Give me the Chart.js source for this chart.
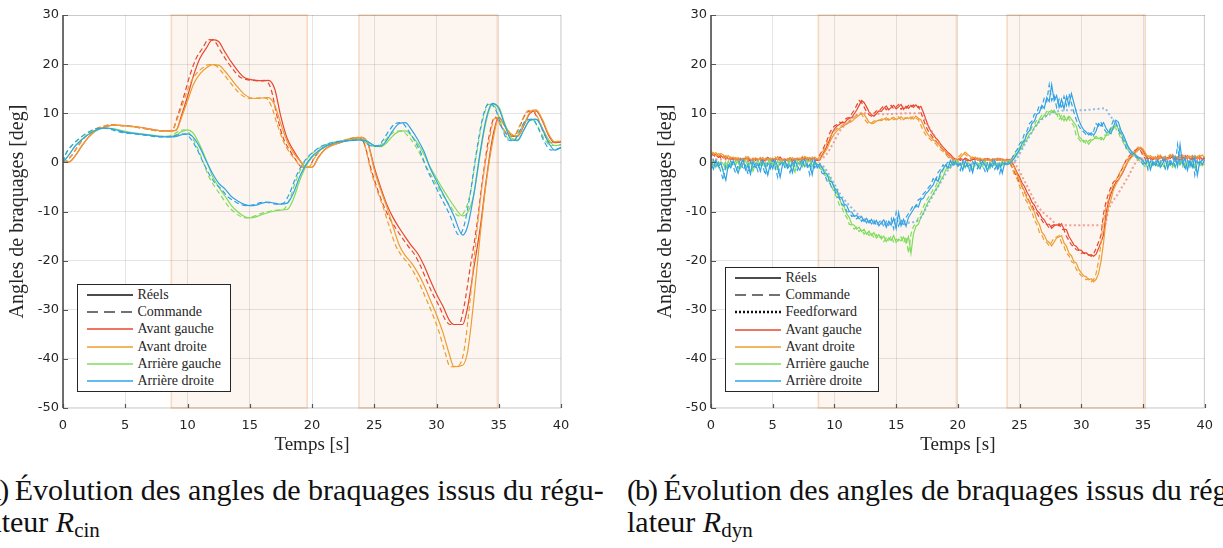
<!DOCTYPE html>
<html lang="fr">
<head>
<meta charset="utf-8">
<title>Angles de braquages</title>
<script src="https://cdn.jsdelivr.net/npm/chart.js@4.4.1/dist/chart.umd.min.js"></script>
<style>
  html, body { margin: 0; padding: 0; background: #fff; overflow: hidden; }
  body { width: 1223px; height: 548px; position: relative; }
  .panel { position: absolute; top: 0; height: 460px; }
  #panelCin { left: 0; width: 612px; }
  #panelDyn { left: 648px; width: 575px; }
  .legend {
    position: absolute; box-sizing: border-box; width: 154px; background: #fff;
    border: 1.2px solid #262626; padding: 1px 0;
    font: 14px "Liberation Serif", serif; color: #262626;
  }
  .legend .row { height: 17.3px; display: flex; align-items: center; white-space: nowrap; }
  .legend svg { margin: 0 5px 0 8.5px; flex: none; }
  .caption {
    position: absolute; top: 474px; white-space: nowrap;
    font: 30px/32px "Liberation Serif", serif; color: #111;
  }
  .caption .tag { letter-spacing: -2px; }
  .caption sub { font-size: 21px; vertical-align: baseline; position: relative; top: 5px; }
</style>
</head>
<body>

<div class="panel" id="panelCin">
  <canvas id="chartCin" width="612" height="460"></canvas>
  <div class="legend" id="legendCin" style="left:77px; top:284px;"></div>
</div>
<div class="panel" id="panelDyn">
  <canvas id="chartDyn" width="575" height="460"></canvas>
  <div class="legend" id="legendDyn" style="left:77px; top:267px;"></div>
</div>

<div class="caption" style="left:-20px;"><span class="tag">(a)</span> Évolution des angles de braquages issus du régu-<br>lateur <i>R</i><sub>cin</sub></div>
<div class="caption" style="left:627px;"><span class="tag">(b)</span> Évolution des angles de braquages issus du régu-<br>lateur <i>R</i><sub>dyn</sub></div>

<script>
// ---------------------------------------------------------------
// Steering angles of the four wheels, kinematic vs dynamic control
// ---------------------------------------------------------------

const wheelNames = ['Avant gauche', 'Avant droite', 'Arrière gauche', 'Arrière droite'];
const wheelColors = ['#e8472f', '#ee9d32', '#7fdc5c', '#2fa3e6'];

// Turning manoeuvres (shaded spans), in seconds
const zonesCin = [[8.7, 19.62], [23.77, 34.89]];
const zonesDyn = [[8.7, 19.89], [23.99, 35.18]];

// ---- (a) kinematic controller, R_cin ----
const tCin = [0, 0.5, 1, 1.5, 2, 2.5, 3, 3.5, 4, 5, 6, 7, 8, 8.7, 9.1, 9.5,
  10, 10.5, 11, 11.5, 12, 12.5, 13, 13.5, 14, 14.5, 15, 15.5, 16, 16.5, 17, 17.5, 18, 18.5, 19, 19.5, 20,
  20.5, 21, 21.5, 22, 23, 24,
  24.5, 25, 25.5, 26, 26.5, 27, 27.5, 28, 28.5, 29, 29.5, 30, 30.5, 31, 31.4, 32.1,
  32.5, 33, 33.5, 34, 34.5, 35, 35.5, 36, 36.5, 37, 37.5, 38, 38.5, 39, 39.5, 40];
// set-point timestamps (the command leads the measured angle)
const tCmdCin = [0, 0.2, 0.7, 1.2, 1.7, 2.2, 2.7, 3.2, 3.7, 4.7, 5.7, 6.7, 7.7, 8.4, 8.8, 9.2,
  9.7, 10.2, 10.7, 11.2, 11.7, 12.2, 12.7, 13.2, 13.7, 14.2, 14.7, 15.2, 15.7, 16.2, 16.7, 17.2, 17.7, 18.2, 18.7, 19.2, 19.7,
  20.2, 20.7, 21.2, 21.7, 22.7, 23.7,
  24.2, 24.7, 25.2, 25.7, 26.2, 26.7, 27.2, 27.7, 28.2, 28.7, 29.2, 29.7, 30.2, 30.7, 31.1, 31.8,
  32.2, 32.7, 33.2, 33.7, 34.2, 34.7, 35.2, 35.7, 36.2, 36.7, 37.2, 37.7, 38.2, 38.7, 39.2, 40];

const avgCin = [0, 0.1, 1.4, 3.3, 5.0, 6.2, 6.9, 7.3, 7.6,
  7.5, 7.2, 6.8, 6.4,
  6.4, 6.6, 9.4,
  13.4, 17.8, 21.2, 23.2, 25.0, 24.6, 22.5, 20.5, 18.8, 17.4, 16.9, 16.7, 16.6, 16.7, 15.0, 9.3, 4.9, 2.5, 0.5, -1.0, -1.0,
  1.0, 2.6, 3.4, 3.8,
  4.6, 5.1,
  3.8, -1.0, -5.0, -8.5, -11.2, -13.3, -15.2, -17.0, -18.6, -21.0, -24.0, -26.8, -29.2, -32.0,
  -33.0, -33.0,
  -29.5, -21.5, -13.5, -3.5, 5.0, 9.2, 7.3, 5.6, 5.3, 7.4, 10.0, 10.5, 8.5, 5.5, 4.0, 4.2];

const avdCin = [0, 0.1, 1.4, 3.3, 5.0, 6.2, 6.9, 7.3, 7.6,
  7.5, 7.2, 6.8, 6.4,
  6.4, 6.6, 9.0,
  12.5, 16.0, 18.0, 19.2, 19.9, 19.8, 18.6, 17.0, 15.4, 14.0, 13.2, 13.0, 13.1, 13.2, 11.7, 7.8, 4.3, 2.0, 0.4, -1.0, -1.0,
  0.9, 2.5, 3.3, 3.8,
  4.6, 5.1,
  3.8, -1.5, -5.5, -9.0, -13.0, -16.8, -19.0, -20.5, -22.5, -25.0, -28.0, -31.0, -34.5, -38.8,
  -41.6, -41.3,
  -38.5, -28.0, -15.0, -4.0, 4.0, 9.0, 7.4, 5.8, 5.4, 7.6, 10.2, 10.7, 8.8, 5.8, 4.2, 4.3];

const argCin = [0, 1.6, 3.4, 4.6, 5.6, 6.3, 6.8, 7.0, 6.9,
  6.3, 5.9, 5.6, 5.3,
  5.3, 5.6, 6.2,
  6.6, 5.8, 3.5, 0.5, -2.8, -5.0, -6.8, -8.7, -10.0, -10.9, -11.3, -11.1, -10.6, -10.2, -9.9, -9.7, -9.6, -7.5, -3.8, -0.9, 1.0,
  2.2, 3.1, 3.7, 4.1,
  4.5, 4.7,
  4.2, 3.4, 3.2, 4.0, 5.4, 6.3, 6.4, 5.4, 3.8, 1.6, -1.0, -3.2, -5.4, -7.4,
  -8.9, -10.9,
  -10.2, -6.5, 1.5, 8.5, 11.8, 11.3, 7.8, 5.0, 4.6, 6.6, 8.5, 8.7, 7.0, 4.6, 3.4, 3.6];

const ardCin = [0, 1.6, 3.4, 4.6, 5.6, 6.4, 6.9, 7.0, 6.8,
  6.1, 5.8, 5.5, 5.2,
  5.2, 5.3, 5.6,
  5.8, 5.0, 3.0, 0.3, -2.2, -4.2, -5.4, -6.9, -7.8, -8.5, -8.8, -8.7, -8.3, -8.1, -8.3, -8.5, -8.3, -6.3, -3.0, -0.5, 1.2,
  2.3, 3.2, 3.7, 4.1,
  4.4, 4.6,
  4.2, 3.4, 3.3, 4.5, 6.5, 7.9, 8.1, 6.6, 4.6, 2.2, -1.2, -3.8, -6.3, -8.8,
  -10.9, -14.8,
  -13.0, -6.5, 2.0, 9.0, 12.0, 11.0, 7.5, 4.6, 4.4, 6.5, 8.6, 8.8, 6.8, 4.0, 2.5, 3.0];

// ---- (b) dynamic controller, R_dyn (logged every 0.2 s) ----
const tDyn = [
  0, 0.2, 0.4, 0.6, 0.8, 1, 1.2, 1.4, 1.6, 1.8,
  2, 2.2, 2.4, 2.6, 2.8, 3, 3.2, 3.4, 3.6, 3.8,
  4, 4.2, 4.4, 4.6, 4.8, 5, 5.2, 5.4, 5.6, 5.8,
  6, 6.2, 6.4, 6.6, 6.8, 7, 7.2, 7.4, 7.6, 7.8,
  8, 8.2, 8.4, 8.6, 8.8, 9, 9.2, 9.4, 9.6, 9.8,
  10, 10.2, 10.4, 10.6, 10.8, 11, 11.2, 11.4, 11.6, 11.8,
  12, 12.2, 12.4, 12.6, 12.8, 13, 13.2, 13.4, 13.6, 13.8,
  14, 14.2, 14.4, 14.6, 14.8, 15, 15.2, 15.4, 15.6, 15.8,
  16, 16.2, 16.4, 16.6, 16.8, 17, 17.2, 17.4, 17.6, 17.8,
  18, 18.2, 18.4, 18.6, 18.8, 19, 19.2, 19.4, 19.6, 19.8,
  20, 20.2, 20.4, 20.6, 20.8, 21, 21.2, 21.4, 21.6, 21.8,
  22, 22.2, 22.4, 22.6, 22.8, 23, 23.2, 23.4, 23.6, 23.8,
  24, 24.2, 24.4, 24.6, 24.8, 25, 25.2, 25.4, 25.6, 25.8,
  26, 26.2, 26.4, 26.6, 26.8, 27, 27.2, 27.4, 27.6, 27.8,
  28, 28.2, 28.4, 28.6, 28.8, 29, 29.2, 29.4, 29.6, 29.8,
  30, 30.2, 30.4, 30.6, 30.8, 31, 31.2, 31.4, 31.6, 31.8,
  32, 32.2, 32.4, 32.6, 32.8, 33, 33.2, 33.4, 33.6, 33.8,
  34, 34.2, 34.4, 34.6, 34.8, 35, 35.2, 35.4, 35.6, 35.8,
  36, 36.2, 36.4, 36.6, 36.8, 37, 37.2, 37.4, 37.6, 37.8,
  38, 38.2, 38.4, 38.6, 38.8, 39, 39.2, 39.4, 39.6, 39.8,
  40];

const avgDyn = [
  1.2, 1.8, 1.5, 1.0, 1.4, 0.9, 1.3, 0.7, 1.0, 0.6,
  0.9, 0.4, 0.8, 0.3, 0.7, 0.9, 0.2, 0.6, 0.8, 0.4,
  0.9, 0.5, 0.3, 1.0, 0.6, 0.2, 0.8, 0.5, 1.1, 0.4,
  0.7, 0.3, 0.9, 0.5, 0.2, 0.8, 0.6, 0.4, 1.0, 0.5,
  0.3, 0.9, 0.6, 0.4, 0.5, 1.5, 2.3, 3.4, 4.5, 5.9,
  6.8, 7.4, 7.7, 8.2, 8.0, 8.6, 9.0, 9.1, 9.9, 10.6,
  11.6, 12.6, 12.2, 11.3, 10.3, 9.7, 9.4, 9.9, 10.5, 10.4,
  11.0, 11.5, 10.7, 11.2, 11.6, 10.9, 11.3, 11.8, 10.8, 11.4,
  11.0, 11.6, 11.2, 11.7, 11.1, 11.4, 10.2, 8.8, 7.4, 6.4,
  5.7, 5.0, 4.5, 3.7, 3.1, 2.6, 2.0, 1.6, 1.0, 0.7,
  0.5, 0.8, 0.4, 0.9, 0.6, 0.3, 0.7, 0.5, 0.9, 0.4,
  0.6, 0.3, 0.8, 0.5, 0.2, 0.7, 0.4, 0.8, 0.5, 0.3,
  0.4, 0.6, 0.0, -1.0, -2.1, -3.0, -4.2, -4.9, -6.1, -6.9,
  -8.1, -8.7, -9.8, -10.3, -11.2, -11.7, -12.6, -12.6, -13.4, -12.9,
  -12.7, -12.9, -12.5, -13.6, -13.7, -15.1, -15.9, -16.8, -17.1, -17.8,
  -17.9, -18.5, -18.4, -18.9, -18.8, -19.1, -18.7, -17.5, -16.2, -14.8,
  -10.5, -8.0, -6.4, -5.1, -4.0, -3.6, -2.8, -1.9, -0.8, 0.3,
  1.0, 1.6, 2.1, 2.5, 2.9, 2.4, 1.4, 0.7, 1.0, 0.6,
  0.9, 0.5, 1.2, 0.7, 0.4, 1.0, 0.8, 1.3, 0.6, 0.9,
  0.5, 1.1, 0.7, 1.4, 0.8, 0.5, 1.0, 0.7, 1.2, 0.6,
  0.8];

const avdDyn = [
  2.4, 1.6, 2.0, 1.3, 1.8, 1.5, 1.0, 1.4, 0.8, 1.1,
  0.6, 1.0, 0.5, 0.9, 0.4, 1.2, 0.6, 0.3, 0.9, 0.7,
  0.5, 1.0, 0.4, 0.8, 0.3, 0.9, 0.6, 1.1, 0.5, 0.7,
  0.3, 0.8, 0.6, 1.0, 0.4, 0.7, 0.9, 0.5, 1.2, 0.8,
  1.0, 0.6, 1.1, 0.7, 0.5, 1.2, 2.0, 2.8, 4.0, 5.0,
  5.8, 6.4, 6.9, 7.2, 7.5, 7.8, 8.1, 8.3, 8.8, 9.2,
  9.6, 10.0, 9.8, 9.0, 8.2, 7.9, 8.0, 8.4, 8.6, 8.5,
  8.8, 9.1, 8.6, 8.9, 9.2, 8.7, 9.0, 9.3, 8.7, 9.1,
  8.9, 9.3, 8.8, 9.4, 9.0, 8.7, 7.6, 6.4, 5.6, 5.1,
  4.6, 4.2, 3.8, 3.2, 2.6, 2.2, 1.7, 1.1, 0.8, 0.4,
  0.6, 1.0, 1.5, 2.1, 1.6, 1.2, 0.8, 1.1, 0.6, 0.9,
  0.5, 0.8, 0.4, 0.7, 0.3, 0.6, 0.9, 0.4, 0.7, 0.5,
  0.3, 0.4, -0.2, -1.2, -2.6, -3.4, -4.9, -5.8, -7.4, -8.0,
  -9.4, -10.1, -11.8, -12.6, -14.2, -14.8, -15.9, -16.3, -17.0, -16.2,
  -15.4, -15.2, -14.9, -16.4, -17.1, -18.5, -19.0, -20.2, -20.5, -21.8,
  -22.5, -23.1, -23.3, -23.9, -23.7, -24.3, -23.8, -22.6, -20.1, -16.4,
  -11.8, -9.0, -7.6, -5.6, -4.5, -3.7, -2.6, -1.7, -0.6, 0.2,
  0.8, 1.4, 2.0, 2.6, 3.1, 2.7, 1.9, 1.1, 1.4, 0.8,
  1.2, 0.7, 1.5, 0.9, 1.3, 0.6, 1.1, 1.6, 0.9, 1.2,
  0.8, 1.5, 1.0, 0.7, 1.3, 0.9, 1.4, 0.8, 1.1, 1.5,
  1.0];

const argDyn = [
  0.2, -0.6, 0.4, -1.0, 0.1, -0.4, -1.5, 0.3, -0.8, 0.2,
  -0.5, 0.4, -1.2, -0.2, 0.5, -0.9, 0.0, -1.8, -0.3, 0.4,
  -0.6, 0.2, -1.1, -0.2, 0.6, -0.7, -0.1, -1.4, 0.3, -0.5,
  0.1, -1.0, 0.5, -0.4, -2.0, 0.2, -0.6, 0.4, -0.9, -0.1,
  0.5, -0.8, 0.2, -0.4, -0.5, -1.2, -1.6, -2.6, -2.9, -4.1,
  -5.0, -6.3, -7.2, -8.7, -9.1, -10.5, -11.2, -12.6, -12.8, -13.6,
  -13.2, -14.1, -13.6, -14.6, -14.0, -14.9, -14.3, -15.4, -14.7, -15.6,
  -15.0, -16.1, -15.4, -15.9, -14.9, -16.3, -15.6, -16.0, -15.2, -16.4,
  -15.1, -18.5, -14.6, -13.0, -12.6, -11.2, -10.4, -9.1, -8.0, -7.2,
  -6.4, -5.5, -4.9, -3.7, -2.9, -1.6, -0.8, -1.2, 0.2, -0.4,
  0.3, -0.6, -0.2, -1.1, 0.1, -0.5, -1.5, 0.2, -0.7, -0.1,
  -0.9, 0.3, -0.4, -1.3, 0.0, -0.6, -0.2, -1.0, 0.3, -0.5,
  -0.2, 0.1, 0.4, 1.1, 1.5, 2.5, 3.0, 4.1, 4.7, 5.7,
  6.1, 7.2, 7.6, 8.7, 8.8, 9.6, 9.5, 10.4, 10.1, 10.6,
  9.8, 9.9, 8.7, 9.5, 8.5, 9.4, 8.8, 8.1, 7.4, 5.3,
  4.8, 4.1, 4.5, 3.7, 4.4, 4.7, 5.3, 4.8, 5.1, 4.6,
  5.5, 5.6, 6.5, 6.8, 7.6, 6.9, 6.1, 4.9, 4.1, 2.9,
  2.5, 1.7, 1.5, 0.8, 0.7, 0.1, -0.3, -1.0, 0.2, -0.6,
  -0.1, -0.8, 0.3, -0.4, -1.2, 0.1, -0.6, -0.2, -1.0, 0.2,
  -0.5, 0.4, -0.9, -0.1, -0.6, 0.3, -1.1, -0.3, 0.2, -0.7,
  -0.2];

const ardDyn = [
  -0.3, -1.4, 0.5, -0.8, -0.2, -2.0, -3.6, -0.5, -1.1, 0.3,
  -0.9, -2.2, -0.4, 0.6, -1.5, -0.6, -2.4, 0.2, -1.0, -0.3,
  -1.8, 0.4, -0.7, -2.6, -0.2, -1.3, 0.5, -0.9, -3.0, -0.4,
  0.3, -1.2, -0.5, -2.1, 0.4, -0.8, -1.6, -0.2, 0.6, -1.0,
  -0.4, -2.5, 0.5, -1.1, -0.3, -1.0, -2.2, -2.4, -3.8, -4.0,
  -5.3, -5.6, -7.0, -7.3, -8.5, -8.8, -10.0, -10.1, -11.0, -10.8,
  -11.5, -11.0, -12.0, -11.4, -12.3, -11.6, -12.5, -11.8, -12.9, -12.2,
  -11.7, -13.2, -12.0, -12.8, -11.4, -13.5, -10.2, -12.9, -11.6, -13.0,
  -11.2, -10.4, -9.6, -8.7, -9.1, -7.6, -7.3, -6.4, -5.9, -5.2,
  -4.6, -3.3, -3.9, -2.0, -1.4, -0.5, -1.2, 0.4, -0.6, 0.2,
  -0.8, -0.2, -1.6, 0.3, -0.9, -0.4, -2.1, 0.1, -0.7, -1.3,
  0.2, -0.6, -1.8, -0.1, -0.9, 0.4, -1.4, -0.3, -2.2, 0.0,
  -0.5, -0.2, 0.3, 0.9, 1.9, 2.6, 3.8, 4.4, 5.9, 6.4,
  7.9, 8.4, 9.8, 10.1, 11.6, 11.0, 13.2, 12.4, 15.8, 12.6,
  13.6, 11.2, 12.8, 10.9, 13.4, 11.6, 14.0, 12.1, 10.2, 8.6,
  7.4, 6.6, 6.2, 5.6, 6.0, 5.5, 6.4, 7.9, 7.4, 8.1,
  7.0, 6.2, 5.8, 7.2, 8.6, 8.2, 6.6, 5.6, 4.4, 3.2,
  2.4, 1.8, 1.5, 1.1, 0.9, 0.3, -0.4, 0.6, -1.5, 0.2,
  -0.6, 0.5, -1.0, -0.2, 0.8, -1.3, 0.3, -0.5, 1.2, -0.8,
  3.6, -0.3, 0.9, -1.6, 0.4, -0.9, 1.0, -2.6, 0.2, -0.4,
  0.5];

// feed-forward angles (front / rear), smooth
const tFf = [0, 8.8, 9.4, 9.9, 10.5, 11.3, 12.1, 13, 14, 15, 16, 16.9, 17.7, 18.5, 19.6, 20,
  24.4, 24.7, 25.5, 26.5, 27.6, 28.1, 29, 30, 31, 31.9, 32.2, 33.0, 33.8, 34.6, 35.2, 40];
const ffAvant = [0.6, 0.6, 1.8, 3.9, 6.6, 8.6, 10.0, 10.0, 9.8, 9.9, 10.0, 10.0, 7.0, 4.0, 0.6, 0.6,
  0.6, -0.5, -4.3, -9.0, -11.7, -12.8, -12.8, -12.8, -12.8, -12.8, -9.7, -6.3, -2.9, 0.5, 0.8, 0.8];
const ffArriere = [-0.3, -0.3, -1.8, -4.0, -6.6, -9.0, -11.0, -12.2, -12.5, -12.5, -12.3, -11.5, -8.0, -4.5, -0.5, -0.3,
  -0.3, 0.5, 4.0, 8.0, 10.0, 10.4, 10.6, 10.6, 10.8, 11.0, 10.0, 7.0, 3.0, 1.0, 0.3, 0.3];

// ---------------------------------------------------------------

const SOLID = [];
const DASHED = [5, 3];
const DOTTED = [2, 2.5];
const tickFont = { family: 'DejaVu Sans', size: 13 };
const inkColor = '#262626';

function series(label, times, values, color, dash, smooth, width) {
  return {
    label,
    data: times.map((t, i) => ({ x: t, y: values[i] })),
    borderColor: color,
    borderWidth: width || 1.2,
    borderDash: dash,
    cubicInterpolationMode: smooth ? 'monotone' : 'default',
    tension: 0,
    pointRadius: 0,
    fill: false
  };
}

// set-point of the dynamic run: one sample ahead of the measured angle
function leadOneSample(values) {
  return values.slice(1).concat(values[values.length - 1]);
}

// Shaded turning spans, painted under the grid
const zonePlugin = {
  id: 'zones',
  beforeDraw(chart, args, opts) {
    const { ctx, chartArea: { top, bottom }, scales: { x } } = chart;
    ctx.save();
    opts.spans.forEach(([a, b]) => {
      const x0 = x.getPixelForValue(a);
      const x1 = x.getPixelForValue(b);
      ctx.fillStyle = 'rgba(230, 140, 80, 0.09)';
      ctx.fillRect(x0, top, x1 - x0, bottom - top);
      ctx.strokeStyle = 'rgba(240, 175, 120, 0.42)';
      ctx.lineWidth = 1.6;
      ctx.strokeRect(x0, top, x1 - x0, bottom - top);
    });
    ctx.restore();
  }
};

// Axes box with inward tick marks
const framePlugin = {
  id: 'frame',
  afterDatasetsDraw(chart) {
    const { ctx, chartArea: { left, right, top, bottom }, scales: { x, y } } = chart;
    ctx.save();
    ctx.strokeStyle = 'rgba(0, 0, 0, 0.12)';
    ctx.lineWidth = 1;
    ctx.beginPath();
    ctx.moveTo(left, top + 0.5); ctx.lineTo(right, top + 0.5);
    ctx.moveTo(right - 0.5, top); ctx.lineTo(right - 0.5, bottom);
    ctx.moveTo(left, bottom - 0.5); ctx.lineTo(right, bottom - 0.5);
    ctx.stroke();

    ctx.strokeStyle = '#555';
    ctx.lineWidth = 1.2;
    ctx.beginPath();
    y.ticks.forEach(t => {
      const py = Math.round(y.getPixelForValue(t.value)) + 0.5;
      ctx.moveTo(left, py); ctx.lineTo(left + 5, py);
    });
    x.ticks.forEach(t => {
      const px = Math.round(x.getPixelForValue(t.value)) + 0.5;
      ctx.moveTo(px, bottom); ctx.lineTo(px, bottom - 4);
    });
    ctx.stroke();

    ctx.strokeStyle = '#4d4d4d';
    ctx.lineWidth = 1.6;
    ctx.beginPath();
    ctx.moveTo(left, top); ctx.lineTo(left, bottom);
    ctx.stroke();
    ctx.restore();
  }
};

function buildChart(canvasId, datasets, spans, rightPad) {
  return new Chart(document.getElementById(canvasId), {
    type: 'line',
    data: { datasets },
    options: {
      responsive: false,
      devicePixelRatio: 1,
      animation: false,
      events: [],
      layout: { padding: { top: 15, right: rightPad, bottom: 0, left: 0 } },
      scales: {
        x: {
          type: 'linear', min: 0, max: 40,
          ticks: { stepSize: 5, padding: 10, color: inkColor, font: tickFont, maxRotation: 0 },
          grid: { color: 'rgba(0, 0, 0, 0.1)', drawTicks: false },
          border: { display: false },
          title: {
            display: true, text: 'Temps [s]', color: inkColor,
            font: { family: 'Liberation Serif', size: 19 }, padding: { top: 0, bottom: 4 }
          },
          afterFit(scale) { scale.height = 52; }
        },
        y: {
          type: 'linear', min: -50, max: 30,
          ticks: { stepSize: 10, padding: 4, color: inkColor, font: tickFont },
          grid: { color: 'rgba(0, 0, 0, 0.1)', drawTicks: false },
          border: { display: false },
          title: {
            display: true, text: 'Angles de braquages [deg]', color: inkColor,
            font: { family: 'Liberation Serif', size: 20 }, padding: { top: 6, bottom: 0 }
          },
          afterFit(scale) { scale.width = 63; }
        }
      },
      plugins: {
        legend: { display: false },
        tooltip: { enabled: false },
        zones: { spans }
      }
    },
    plugins: [zonePlugin, framePlugin]
  });
}

// Chart.js paints dataset 0 last, so the list runs from top layer to bottom layer
function cinDatasets() {
  const real = [avgCin, avdCin, argCin, ardCin];
  const out = [];
  for (let w = 3; w >= 0; w--) {
    out.push(series(wheelNames[w] + ' (réel)', tCin, real[w], wheelColors[w], SOLID, true));
    out.push(series(wheelNames[w] + ' (commande)', tCmdCin, real[w], wheelColors[w], DASHED, true));
  }
  return out;
}

function dynDatasets() {
  const real = [avgDyn, avdDyn, argDyn, ardDyn];
  const out = [
    series('Feedforward arrière', tFf, ffArriere, 'rgba(90, 165, 225, 0.7)', DOTTED, true, 2),
    series('Feedforward avant', tFf, ffAvant, 'rgba(240, 120, 105, 0.7)', DOTTED, true, 2)
  ];
  for (let w = 3; w >= 0; w--) {
    out.push(series(wheelNames[w] + ' (réel)', tDyn, real[w], wheelColors[w], SOLID, false));
    out.push(series(wheelNames[w] + ' (commande)', tDyn, leadOneSample(real[w]), wheelColors[w], DASHED, false));
  }
  return out;
}

// Boxed legend: line styles first, then one colour per wheel
function renderLegend(elId, withFeedforward) {
  const entries = [
    { text: 'Réels', color: '#111', dash: '', width: 1.3 },
    { text: 'Commande', color: '#444', dash: '11 6', width: 1.3 }
  ];
  if (withFeedforward) entries.push({ text: 'Feedforward', color: '#111', dash: '2 2', width: 2.4 });
  wheelNames.forEach((name, i) => entries.push({ text: name, color: wheelColors[i], dash: '', width: 1.5 }));

  const el = document.getElementById(elId);
  entries.forEach(e => {
    const row = document.createElement('div');
    row.className = 'row';
    row.innerHTML =
      `<svg width="46" height="10"><line x1="0" y1="5" x2="46" y2="5" stroke="${e.color}"` +
      ` stroke-width="${e.width}" stroke-dasharray="${e.dash}"/></svg><span>${e.text}</span>`;
    el.appendChild(row);
  });
}

buildChart('chartCin', cinDatasets(), zonesCin, 51);
buildChart('chartDyn', dynDatasets(), zonesDyn, 14);
renderLegend('legendCin', false);
renderLegend('legendDyn', true);
</script>
</body>
</html>
